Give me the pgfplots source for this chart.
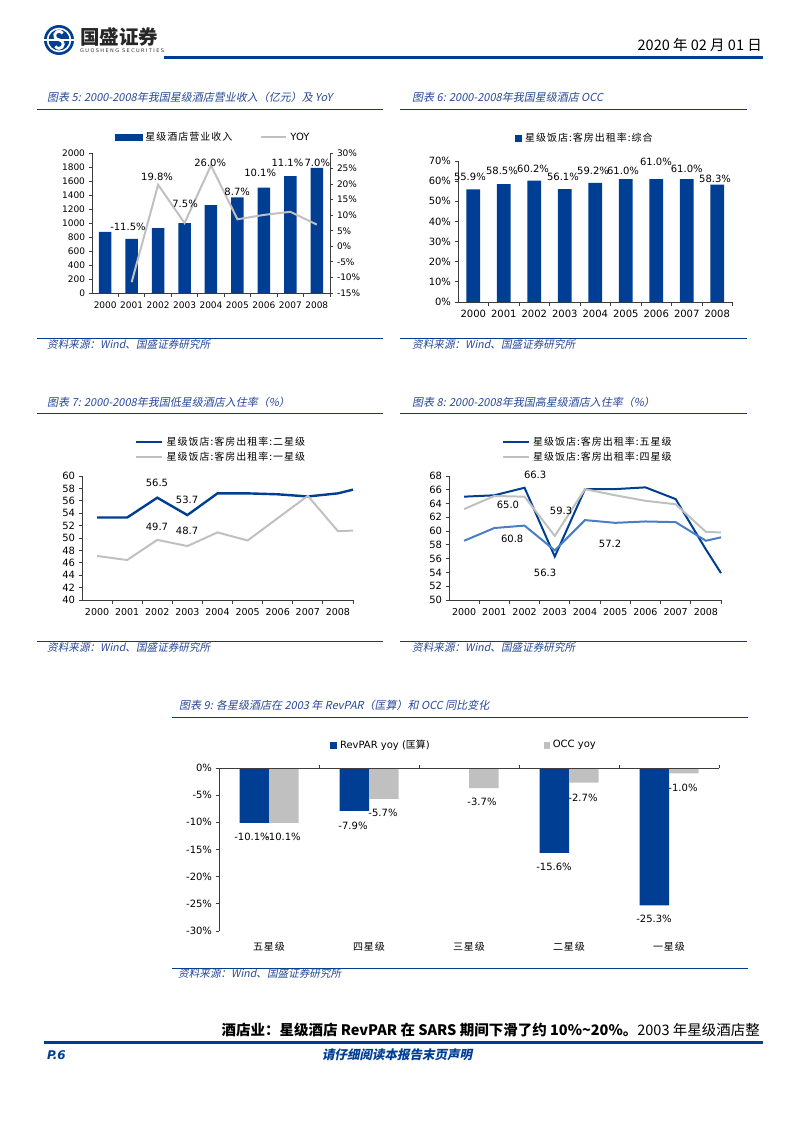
\documentclass[border=0pt]{standalone}
\usepackage{pgfplots}
\pgfplotsset{compat=1.18}
\usepackage{fontspec}
\setmainfont{DejaVu Sans}
\newfontfamily\cjk{Noto Sans CJK SC}
\newfontfamily\cjksp[LetterSpace=10]{Noto Sans CJK SC}
\newfontfamily\cjkit[FakeSlant=0.2]{Noto Sans CJK SC}
\newfontfamily\widesans[LetterSpace=28]{DejaVu Sans}

\definecolor{gsblue}{RGB}{0,62,148}
\definecolor{gsgray}{RGB}{192,192,192}
\definecolor{midblue}{RGB}{74,126,196}
\definecolor{ttl}{RGB}{38,72,150}
\definecolor{axgray}{RGB}{60,60,60}

\newcommand{\fs}[1]{\fontsize{#1bp}{#1bp}\selectfont}

\pgfplotsset{
  gs/.style={
    scale only axis, clip=false,
    axis line style={axgray, line width=0.8bp},
    tick style={axgray, line width=0.8bp},
    major tick length=3.5bp,
    tick align=outside,
    axis x line*=bottom, axis y line*=left,
    legend cell align=left,
    legend style={draw=none, fill=none, inner sep=0pt, outer sep=0pt,
      nodes={inner sep=0pt}, font=\fs{10},
      /tikz/every odd column/.append style={column sep=3bp}},
  },
  years/.style={
    xmin=-0.5, xmax=8.5,
    xtick={0.5,1.5,...,8.5}, xticklabels={},
    extra x ticks={0,1,2,3,4,5,6,7,8},
    extra x tick labels={2000,2001,2002,2003,2004,2005,2006,2007,2008},
    extra x tick style={major tick length=0pt},
  },
}

\begin{document}
\begin{tikzpicture}
\path[use as bounding box] (0,0) rectangle (793bp,-1122bp);

% ---------- header
\fill[gsblue] (59bp,-40bp) circle (15bp);
\fill[white] (59bp,-40bp) circle (12.3bp);
\fill[gsblue] (59bp,-40bp) circle (10.5bp);
\draw[white, line width=1.4bp] (44bp,-40bp) -- (74bp,-40bp);
\draw[white, line width=2.8bp] (62.7bp,-33.35bp) arc[start angle=30, end angle=270, radius=4.3bp]
  arc[start angle=90, end angle=-150, radius=4.3bp];
\node[anchor=west, inner sep=0pt, text=black!85] at (80bp,-37bp) {\cjk\bfseries\fs{19.5}国盛证券};
\node[anchor=west, inner sep=0pt, text=black!80] at (80bp,-51bp) {\widesans\fs{5}GUOSHENG SECURITIES};
\fill[gsblue] (164bp,-55.8bp) rectangle (763bp,-58.8bp);
\node[anchor=east, inner sep=0pt] at (762bp,-45bp) {\cjk\fs{14.5}2020 年 02 月 01 日};

% ---------- titles, rules, sources
\node[anchor=west, inner sep=0pt, text=ttl] at (47bp,-97bp) {\cjkit\fs{11}图表 5: 2000-2008年我国星级酒店营业收入（亿元）及 YoY};
\node[anchor=west, inner sep=0pt, text=ttl] at (412bp,-97bp) {\cjkit\fs{11}图表 6: 2000-2008年我国星级酒店 OCC};
\node[anchor=west, inner sep=0pt, text=ttl] at (47bp,-402bp) {\cjkit\fs{11}图表 7: 2000-2008年我国低星级酒店入住率（\%）};
\node[anchor=west, inner sep=0pt, text=ttl] at (412bp,-402bp) {\cjkit\fs{11}图表 8: 2000-2008年我国高星级酒店入住率（\%）};
\node[anchor=west, inner sep=0pt, text=ttl] at (179bp,-705bp) {\cjkit\fs{11}图表 9: 各星级酒店在 2003 年 RevPAR（匡算）和 OCC 同比变化};

\draw[gsblue, line width=1bp] (37bp,-109bp) -- (383bp,-109bp);
\draw[gsblue, line width=1bp] (400bp,-109bp) -- (747bp,-109bp);
\draw[gsblue, line width=1bp] (37bp,-413bp) -- (383bp,-413bp);
\draw[gsblue, line width=1bp] (400bp,-413bp) -- (747bp,-413bp);
\draw[gsblue, line width=1bp] (172bp,-717bp) -- (748bp,-717bp);

\draw[gsblue, line width=1bp] (37bp,-338bp) -- (383bp,-338bp);
\draw[gsblue, line width=1bp] (400bp,-338bp) -- (747bp,-338bp);
\draw[gsblue, line width=1bp] (37bp,-641bp) -- (383bp,-641bp);
\draw[gsblue, line width=1bp] (400bp,-641bp) -- (747bp,-641bp);
\draw[gsblue, line width=1bp] (172bp,-968bp) -- (748bp,-968bp);

\node[anchor=west, inner sep=0pt, text=ttl] at (47bp,-344bp) {\cjkit\fs{10.6}资料来源：Wind、国盛证券研究所};
\node[anchor=west, inner sep=0pt, text=ttl] at (412bp,-344bp) {\cjkit\fs{10.6}资料来源：Wind、国盛证券研究所};
\node[anchor=west, inner sep=0pt, text=ttl] at (47bp,-647bp) {\cjkit\fs{10.6}资料来源：Wind、国盛证券研究所};
\node[anchor=west, inner sep=0pt, text=ttl] at (412bp,-647bp) {\cjkit\fs{10.6}资料来源：Wind、国盛证券研究所};
\node[anchor=west, inner sep=0pt, text=ttl] at (178bp,-973bp) {\cjkit\fs{10.6}资料来源：Wind、国盛证券研究所};

% ---------- chart 5: revenue bars
\begin{axis}[gs, years, at={(92bp,-293bp)}, anchor=south west,
  width=238bp, height=140bp,
  ymin=0, ymax=2000, ytick={0,200,...,2000},
  yticklabels={0,200,400,600,800,1000,1200,1400,1600,1800,2000},
  tick label style={font=\fs{9}},
  xticklabel style={yshift=-5bp},
  ybar, bar width=12.5bp]
\addplot[fill=gsblue, draw=none] coordinates {
  (0,875) (1,775) (2,928) (3,998) (4,1257) (5,1366) (6,1504) (7,1671) (8,1788)};
\end{axis}

% chart 5: YoY line
\begin{axis}[gs, at={(92bp,-293bp)}, anchor=south west,
  width=238bp, height=140bp, xmin=-0.5, xmax=8.5,
  axis x line=none, axis y line*=right,
  ymin=-15, ymax=30, ytick={-15,-10,...,30},
  yticklabels={-15\%,-10\%,-5\%,0\%,5\%,10\%,15\%,20\%,25\%,30\%},
  tick label style={font=\fs{9}},
  legend columns=2,
  legend style={at={(0.097,1.114)}, anchor=west,
    /tikz/every even column/.append style={column sep=28bp}}]
\addlegendimage{legend image code/.code={\fill[gsblue] (0bp,-3bp) rectangle (27bp,3bp);}}
\addlegendentry{\cjksp 星级酒店营业收入}
\addplot[gsgray, line width=2bp,
  legend image code/.code={\draw[gsgray, line width=2bp] (0bp,0bp) -- (25bp,0bp);}]
  coordinates {(1,-11.5) (2,19.8) (3,7.5) (4,26.0) (5,8.7) (6,10.1) (7,11.1) (8,7.0)};
\addlegendentry{YOY}
\node[font=\fs{10}] at (axis cs:0.86,6.2) {-11.5\%};
\node[font=\fs{10}] at (axis cs:1.96,22.3) {19.8\%};
\node[font=\fs{10}] at (axis cs:3.02,13.6) {7.5\%};
\node[font=\fs{10}] at (axis cs:3.97,26.8) {26.0\%};
\node[font=\fs{10}] at (axis cs:4.99,17.5) {8.7\%};
\node[font=\fs{10}] at (axis cs:5.86,23.6) {10.1\%};
\node[font=\fs{10}] at (axis cs:6.89,26.8) {11.1\%};
\node[font=\fs{10}] at (axis cs:8.02,26.8) {7.0\%};
\end{axis}

% ---------- chart 6: OCC
\begin{axis}[gs, years, at={(458bp,-302bp)}, anchor=south west,
  width=274.5bp, height=141bp,
  ymin=0, ymax=70, ytick={0,10,...,70},
  yticklabels={0\%,10\%,20\%,30\%,40\%,50\%,60\%,70\%},
  tick label style={font=\fs{10}},
  xticklabel style={yshift=-5bp},
  ybar, bar width=13.7bp,
  legend style={at={(0.208,1.163)}, anchor=west}]
\addplot[fill=gsblue, draw=none,
  legend image code/.code={\fill[gsblue] (0bp,-3.5bp) rectangle (7bp,3.5bp);}]
  coordinates {(0,55.9) (1,58.5) (2,60.2) (3,56.1) (4,59.2) (5,61.0) (6,61.0) (7,61.0) (8,58.3)};
\addlegendentry{\cjksp 星级饭店:客房出租率:综合}
\node[font=\fs{10}] at (axis cs:-0.11,62.1) {55.9\%};
\node[font=\fs{10}] at (axis cs:0.94,65.0) {58.5\%};
\node[font=\fs{10}] at (axis cs:1.96,66.0) {60.2\%};
\node[font=\fs{10}] at (axis cs:2.94,62.1) {56.1\%};
\node[font=\fs{10}] at (axis cs:3.93,65.0) {59.2\%};
\node[font=\fs{10}] at (axis cs:4.91,65.0) {61.0\%};
\node[font=\fs{10}] at (axis cs:5.99,69.5) {61.0\%};
\node[font=\fs{10}] at (axis cs:7.00,66.0) {61.0\%};
\node[font=\fs{10}] at (axis cs:7.93,61.1) {58.3\%};
\end{axis}

% ---------- chart 7: low-star occupancy
\begin{axis}[gs, years, at={(82bp,-600bp)}, anchor=south west,
  width=271bp, height=124bp,
  ymin=40, ymax=60, ytick={40,42,...,60},
  yticklabels={40,42,44,46,48,50,52,54,56,58,60},
  tick label style={font=\fs{10}},
  xticklabel style={font=\fs{9.5}, yshift=-5bp},
  legend style={at={(0.196,1.214)}, anchor=west, row sep=5bp}]
\addplot[gsblue, line width=2.4bp,
  legend image code/.code={\draw[gsblue, line width=2.4bp] (0bp,0bp) -- (26bp,0bp);}]
  coordinates {(0,53.3) (1,53.3) (2,56.5) (3,53.7) (4,57.2) (5,57.2) (6,57.05) (7,56.7) (8,57.2) (8.5,57.8)};
\addlegendentry{\cjksp 星级饭店:客房出租率:二星级}
\addplot[gsgray, line width=2bp,
  legend image code/.code={\draw[gsgray, line width=2bp] (0bp,0bp) -- (26bp,0bp);}]
  coordinates {(0,47.1) (1,46.45) (2,49.7) (3,48.7) (4,50.9) (5,49.6) (6,53.2) (7,56.8) (8,51.1) (8.5,51.2)};
\addlegendentry{\cjksp 星级饭店:客房出租率:一星级}
\node[font=\fs{10}] at (axis cs:1.99,58.87) {56.5};
\node[font=\fs{10}] at (axis cs:2.99,56.13) {53.7};
\node[font=\fs{10}] at (axis cs:1.99,51.77) {49.7};
\node[font=\fs{10}] at (axis cs:2.99,51.13) {48.7};
\end{axis}

% ---------- chart 8: high-star occupancy
\begin{axis}[gs, years, at={(449bp,-600bp)}, anchor=south west,
  width=272bp, height=124bp,
  ymin=50, ymax=68, ytick={50,52,...,68},
  yticklabels={50,52,54,56,58,60,62,64,66,68},
  tick label style={font=\fs{10}},
  xticklabel style={font=\fs{9.5}, yshift=-5bp},
  legend style={at={(0.195,1.214)}, anchor=west, row sep=5bp}]
\addplot[gsblue, line width=2bp,
  legend image code/.code={\draw[gsblue, line width=2bp] (0bp,0bp) -- (26bp,0bp);}]
  coordinates {(0,65.0) (1,65.2) (2,66.3) (3,56.3) (4,66.1) (5,66.1) (6,66.35) (7,64.65) (8,57.35) (8.5,53.9)};
\addlegendentry{\cjksp 星级饭店:客房出租率:五星级}
\addplot[gsgray, line width=2bp,
  legend image code/.code={\draw[gsgray, line width=2bp] (0bp,0bp) -- (26bp,0bp);}]
  coordinates {(0,63.2) (1,65.1) (2,65.0) (3,59.3) (4,66.1) (5,65.2) (6,64.4) (7,63.9) (8,59.9) (8.5,59.8)};
\addlegendentry{\cjksp 星级饭店:客房出租率:四星级}
\addplot[midblue, line width=2bp, forget plot]
  coordinates {(0,58.6) (1,60.45) (2,60.8) (3,57.2) (4,61.6) (5,61.2) (6,61.4) (7,61.3) (8,58.6) (8.5,59.1)};
\node[font=\fs{10}] at (axis cs:2.35,68.15) {66.3};
\node[font=\fs{10}] at (axis cs:1.45,63.79) {65.0};
\node[font=\fs{10}] at (axis cs:3.21,62.92) {59.3};
\node[font=\fs{10}] at (axis cs:1.59,58.85) {60.8};
\node[font=\fs{10}] at (axis cs:4.83,58.13) {57.2};
\node[font=\fs{10}] at (axis cs:2.68,53.92) {56.3};
\end{axis}

% ---------- chart 9: RevPAR and OCC yoy 2003 (bars, y axis, category names)
\begin{axis}[gs, at={(219bp,-931bp)}, anchor=south west,
  width=500bp, height=163bp,
  xmin=-0.5, xmax=4.5, ymin=-30, ymax=0,
  x axis line style={draw=none},
  xtick={0,1,2,3,4},
  xticklabels={五星级,四星级,三星级,二星级,一星级},
  xtick style={draw=none},
  xticklabel style={font=\cjksp\fs{10}, yshift=-4bp},
  ytick={-30,-25,...,0},
  yticklabels={-30\%,-25\%,-20\%,-15\%,-10\%,-5\%,0\%},
  yticklabel style={font=\fs{10}},
  ybar=0pt, bar width=29.5bp,
  legend columns=2,
  legend style={at={(0.222,1.141)}, anchor=west,
    /tikz/every even column/.append style={column sep=114bp}}]
\addplot[fill=gsblue, draw=none,
  legend image code/.code={\fill[gsblue] (0bp,-3.5bp) rectangle (7bp,3.5bp);}]
  coordinates {(0,-10.1) (1,-7.9) (3,-15.6) (4,-25.3)};
\addlegendentry{RevPAR yoy ({\cjk 匡算})}
\addplot[fill=gsgray, draw=none,
  legend image code/.code={\fill[gsgray] (0bp,-3.5bp) rectangle (6bp,3.5bp);}]
  coordinates {(0,-10.1) (1,-5.7) (2,-3.7) (3,-2.7) (4,-1.0)};
\addlegendentry{OCC yoy}
\node[font=\fs{10}] at (axis cs:-0.17,-12.70) {-10.1\%};
\node[font=\fs{10}] at (axis cs:0.14,-12.70) {-10.1\%};
\node[font=\fs{10}] at (axis cs:0.84,-10.68) {-7.9\%};
\node[font=\fs{10}] at (axis cs:1.14,-8.28) {-5.7\%};
\node[font=\fs{10}] at (axis cs:2.13,-6.26) {-3.7\%};
\node[font=\fs{10}] at (axis cs:3.14,-5.52) {-2.7\%};
\node[font=\fs{10}] at (axis cs:2.85,-18.22) {-15.6\%};
\node[font=\fs{10}] at (axis cs:4.14,-3.68) {-1.0\%};
\node[font=\fs{10}] at (axis cs:3.85,-27.79) {-25.3\%};
\end{axis}

% chart 9: zero line with category separators
\begin{axis}[gs, at={(219bp,-931bp)}, anchor=south west,
  width=500bp, height=163bp,
  xmin=-0.5, xmax=4.5, ymin=-30, ymax=0,
  axis y line=none, axis x line*=top,
  xtick={0.5,1.5,2.5,3.5,4.5}, xticklabels={}]
\end{axis}

% ---------- footer
\node[anchor=east, inner sep=0pt] at (760bp,-1030bp)
  {\cjk\fs{14.5}{\bfseries 酒店业：星级酒店 RevPAR 在 SARS 期间下滑了约 10\%\textasciitilde 20\%。}2003 年星级酒店整};
\fill[gsblue] (44bp,-1041bp) rectangle (763bp,-1043.5bp);
\node[anchor=west, inner sep=0pt, text=gsblue] at (47bp,-1055bp) {\fs{12}\bfseries\itshape P.6};
\node[inner sep=0pt, text=gsblue] at (397bp,-1055bp) {\cjkit\bfseries\fs{12.5}请仔细阅读本报告末页声明};
\end{tikzpicture}
\end{document}
